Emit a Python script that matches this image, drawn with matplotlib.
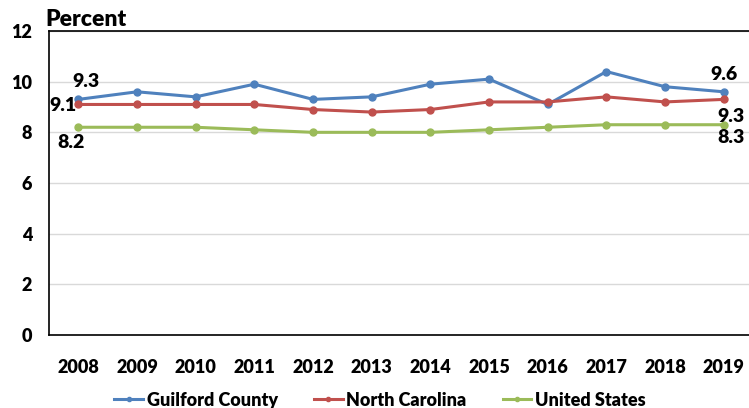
import numpy as np
import matplotlib.pyplot as plt

plt.rcParams['font.family'] = ['Lato', 'DejaVu Sans']
plt.rcParams['font.weight'] = 'heavy'

# Data
years = ['2008', '2009', '2010', '2011', '2012', '2013', '2014', '2015', '2016', '2017', '2018', '2019']
guilford = [9.3, 9.6, 9.4, 9.9, 9.3, 9.4, 9.9, 10.1, 9.1, 10.4, 9.8, 9.6]
nc = [9.1, 9.1, 9.1, 9.1, 8.9, 8.8, 8.9, 9.2, 9.2, 9.4, 9.2, 9.3]
us = [8.2, 8.2, 8.2, 8.1, 8.0, 8.0, 8.0, 8.1, 8.2, 8.3, 8.3, 8.3]

blue = '#4f81bd'
red = '#c0504d'
green = '#9bbb59'

fig = plt.figure(figsize=(7.49, 4.08), dpi=100)
ax = fig.add_axes([0.0654, 0.179, 0.94, 0.745])

x = np.arange(len(years))
ax.plot(x, guilford, color=blue, lw=2.2, marker='o', ms=5, label='Guilford County', zorder=3)
ax.plot(x, nc, color=red, lw=2.2, marker='o', ms=5, label='North Carolina', zorder=3)
ax.plot(x, us, color=green, lw=2.2, marker='o', ms=5, label='United States', zorder=3)

ax.set_xlim(-0.5, 11.5)
ax.set_ylim(0, 12)
ax.set_yticks(range(0, 13, 2))
ax.set_xticks(x)
ax.set_xticklabels(years)
ax.tick_params(axis='both', length=0, labelsize=13)
ax.tick_params(axis='x', pad=17)
ax.tick_params(axis='y', pad=12)
ax.grid(axis='y', color='#d9d9d9', lw=1)
ax.set_axisbelow(True)
for s in ['left', 'bottom', 'top']:
    ax.spines[s].set_color('black')
    ax.spines[s].set_linewidth(1.2)
ax.spines['right'].set_visible(False)

# end labels
fs = 14
ax.annotate(f'{guilford[0]}', (x[0], guilford[0]), xytext=(-4, 7), textcoords='offset points', ha='left', va='bottom', fontsize=fs)
ax.annotate(f'{nc[0]}', (x[0], nc[0]), xytext=(-1, -1), textcoords='offset points', ha='right', va='center', fontsize=fs)
ax.annotate(f'{us[0]}', (x[0], us[0]), xytext=(-5, -5), textcoords='offset points', ha='center', va='top', fontsize=fs)
ax.annotate(f'{guilford[-1]}', (x[-1], guilford[-1]), xytext=(0, 6), textcoords='offset points', ha='center', va='bottom', fontsize=fs)
ax.annotate(f'{nc[-1]}', (x[-1], nc[-1]), xytext=(5, -6), textcoords='offset points', ha='center', va='top', fontsize=fs)
ax.annotate(f'{us[-1]}', (x[-1], us[-1]), xytext=(5, -3), textcoords='offset points', ha='center', va='top', fontsize=fs)

fig.text(0.06, 0.952, 'Percent', fontsize=16.5, ha='left', va='center')

ax.legend(loc='center', bbox_to_anchor=(0.47, -0.215), ncol=3, frameon=False, borderaxespad=0,
          fontsize=13, handlelength=1.6, handletextpad=0.2, columnspacing=2.0, markerscale=0.6)

fig.savefig('out.png', dpi=100)
